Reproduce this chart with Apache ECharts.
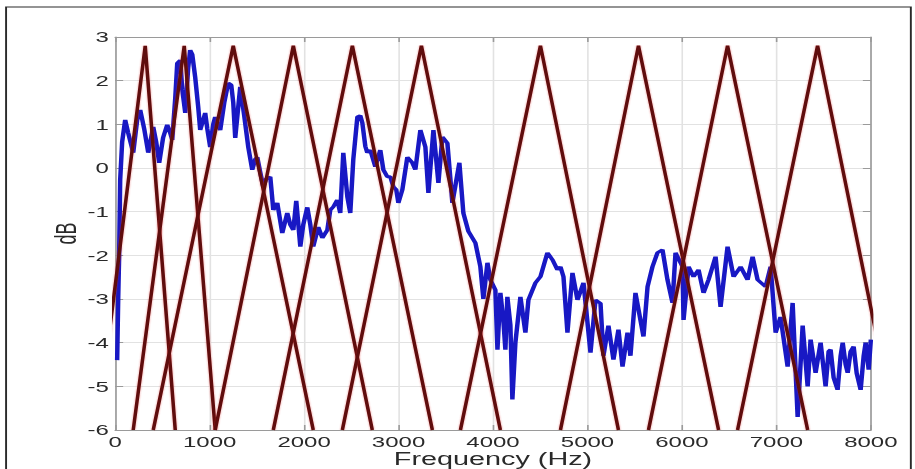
<!DOCTYPE html>
<html><head><meta charset="utf-8">
<script src="https://cdn.jsdelivr.net/npm/echarts/dist/echarts.min.js"></script>
<style>
html,body{margin:0;padding:0;background:#fff;overflow:hidden;}
#wrap{width:915px;height:469px;overflow:hidden;position:relative;background:#fff;}
#chart{width:572px;height:469px;transform:scaleX(1.59965);transform-origin:0 0;}
</style></head><body><div id="wrap"><div id="chart"></div></div>
<script>
// Spectrum (blue): frequency in Hz and level in dB
const freqHz = [21,32,42,53,74,106,138,191,233,265,307,350,403,434,466,508,551,583,604,636,657,689,710,742,773,794,816,847,879,900,932,953,975,1006,1038,1059,1091,1112,1155,1197,1229,1250,1271,1303,1324,1366,1409,1451,1483,1504,1536,1568,1599,1642,1674,1716,1769,1822,1854,1886,1917,1960,1991,2034,2066,2097,2150,2193,2246,2277,2309,2351,2383,2415,2458,2489,2521,2564,2595,2617,2648,2669,2701,2754,2807,2839,2881,2913,2945,2976,2998,3040,3093,3146,3178,3231,3284,3316,3369,3422,3464,3517,3570,3644,3686,3739,3814,3866,3898,3941,3972,4025,4047,4078,4110,4131,4152,4184,4205,4237,4290,4343,4375,4449,4502,4576,4629,4682,4714,4746,4788,4841,4894,4958,5032,5085,5138,5169,5222,5275,5328,5371,5424,5455,5508,5593,5636,5688,5741,5794,5847,5900,5932,6006,6017,6070,6123,6176,6229,6282,6356,6409,6483,6547,6621,6695,6748,6801,6886,6939,6992,7044,7119,7172,7225,7278,7331,7362,7415,7468,7500,7521,7553,7574,7606,7648,7680,7702,7733,7755,7786,7818,7850,7892,7924,7945,7977,8000];
const spectrumDb = [-4.4,-3.0,-2.0,-0.27,0.6,1.1,0.8,0.35,1.1,1.33,0.9,0.35,0.94,0.6,0.12,0.7,0.99,0.8,0.64,1.6,2.4,2.47,1.8,1.26,2.3,2.7,2.6,2.08,1.4,0.87,1.1,1.26,0.9,0.48,1.0,1.17,0.95,0.87,1.5,1.95,1.9,1.5,0.69,1.4,1.86,1.2,0.48,-0.04,0.2,0.25,-0.1,-0.43,-0.25,-0.2,-0.96,-0.8,-1.49,-1.03,-1.3,-1.42,-0.75,-1.8,-1.3,-0.9,-1.3,-1.8,-1.35,-1.6,-1.42,-0.96,-0.89,-0.73,-1.03,0.35,-0.66,-1.03,0.2,1.17,1.2,1.03,0.5,0.35,0.41,0.03,0.41,-0.04,-0.2,-0.2,-0.43,-0.5,-0.8,-0.5,0.25,0.12,-0.04,0.87,0.48,-0.57,0.87,-0.34,0.71,0.57,-0.8,0.12,-1.03,-1.45,-1.72,-2.26,-3.0,-2.17,-2.56,-2.79,-4.16,-2.86,-3.5,-4.16,-2.95,-3.6,-5.3,-4.0,-2.95,-3.77,-3.02,-2.63,-2.49,-1.94,-2.1,-2.33,-2.26,-2.49,-3.77,-2.4,-3.02,-2.63,-4.23,-3.02,-3.1,-4.3,-3.61,-4.39,-3.7,-4.55,-3.77,-4.3,-2.86,-3.86,-2.72,-2.26,-1.94,-1.87,-2.56,-3.09,-1.94,-2.26,-3.48,-2.26,-2.49,-2.33,-2.86,-2.56,-2.03,-3.18,-1.8,-2.49,-2.26,-2.56,-2.03,-2.56,-2.72,-2.26,-3.77,-3.41,-4.55,-3.09,-5.7,-3.61,-5.0,-3.93,-4.69,-4.0,-4.6,-5.0,-4.2,-4.16,-4.8,-5.08,-4.3,-4.0,-4.5,-4.69,-4.2,-4.09,-4.7,-5.08,-4.3,-4.0,-4.62,-3.93];

// Triangular filters (dark red): left edge, peak and right edge in Hz
const filterLeftHz  = [-191, 191, 403, 1059, 1674, 2405, 3655, 4714, 5646, 6589];
const filterPeakHz  = [318, 731, 1250, 1886, 2511, 3242, 4502, 5540, 6483, 7436];
const filterRightHz = [636, 1059, 2097, 2722, 3358, 4078, 5328, 6388, 7331, 8263];
const filterTopDb = 2.8;
const filterBaseDb = -6;

// Axes
const xMin = 0, xMax = 8000, xStep = 1000;
const yMin = -6, yMax = 3, yStep = 1;
const xTitle = 'Frequency (Hz)';
const yTitle = 'dB';

const chart = echarts.init(document.getElementById('chart'), null, {renderer: 'svg'});
const FONT = '"Liberation Sans", Arial, Helvetica, sans-serif';
const specData = freqHz.map((f, i) => [f, spectrumDb[i]]);
const series = [{
  type: 'line', data: specData, showSymbol: false, symbol: 'none', z: 2,
  lineStyle: {color: '#1818c4', width: 2.8}, animation: false
}];
filterPeakHz.forEach((p, i) => {
  series.push({
    type: 'line', showSymbol: false, symbol: 'none', clip: false, z: 3, animation: false,
    data: [[filterLeftHz[i], filterBaseDb], [p, filterTopDb], [filterRightHz[i], filterBaseDb]],
    lineStyle: {color: '#5e0d0d', width: 2.2, shadowColor: 'rgba(220,40,40,0.45)', shadowBlur: 1.2}
  });
});
const grid = {left: 72, right: 27.6, top: 37, bottom: 39, containLabel: false, outerBoundsMode: 'none'};
const lineGray = '#9a9a9a';
const plainNum = v => String(v);
chart.setOption({
  animation: false,
  backgroundColor: '#fff',
  grid: grid,
  xAxis: [{
    type: 'value', min: xMin, max: xMax, interval: xStep, position: 'bottom',
    axisLine: {show: true, onZero: false, lineStyle: {color: lineGray, width: 1}},
    axisTick: {show: true, inside: true, length: 5, lineStyle: {color: lineGray}},
    axisLabel: {fontFamily: FONT, fontSize: 15, color: '#2a2a2a', margin: 4, formatter: plainNum},
    splitLine: {show: true, lineStyle: {color: '#e2e2e2', width: 1}},
    name: xTitle, nameLocation: 'middle', nameGap: 20, nameMoveOverlap: false,
    nameTextStyle: {fontFamily: FONT, fontSize: 18, color: '#2a2a2a', verticalAlign: 'top'}
  }, {
    type: 'value', min: xMin, max: xMax, interval: xStep, position: 'top',
    axisLine: {show: true, onZero: false, lineStyle: {color: lineGray, width: 1}},
    axisTick: {show: true, inside: true, length: 5, lineStyle: {color: lineGray}},
    axisLabel: {show: false}, splitLine: {show: false}
  }],
  yAxis: [{
    type: 'value', min: yMin, max: yMax, interval: yStep, position: 'left',
    axisLine: {show: true, onZero: false, lineStyle: {color: lineGray, width: 1}},
    axisTick: {show: true, inside: true, length: 5, lineStyle: {color: lineGray}},
    axisLabel: {fontFamily: FONT, fontSize: 15, color: '#2a2a2a', margin: 4, formatter: plainNum},
    splitLine: {show: true, lineStyle: {color: '#e2e2e2', width: 1}},
    name: yTitle, nameLocation: 'middle', nameGap: 22, nameRotate: 90, nameMoveOverlap: false,
    nameTextStyle: {fontFamily: FONT, fontSize: 18, color: '#2a2a2a'}
  }, {
    type: 'value', min: yMin, max: yMax, interval: yStep, position: 'right',
    axisLine: {show: true, onZero: false, lineStyle: {color: lineGray, width: 1}},
    axisTick: {show: true, inside: true, length: 5, lineStyle: {color: lineGray}},
    axisLabel: {show: false}, splitLine: {show: false}
  }],
  graphic: [{
    type: 'rect', z: 100, silent: true,
    shape: {x: 3.8, y: 7, width: 565.6, height: 470},
    style: {fill: 'none', stroke: '#2a2a2a', lineWidth: 1.2}
  }],
  series: series
});
</script></body></html>
